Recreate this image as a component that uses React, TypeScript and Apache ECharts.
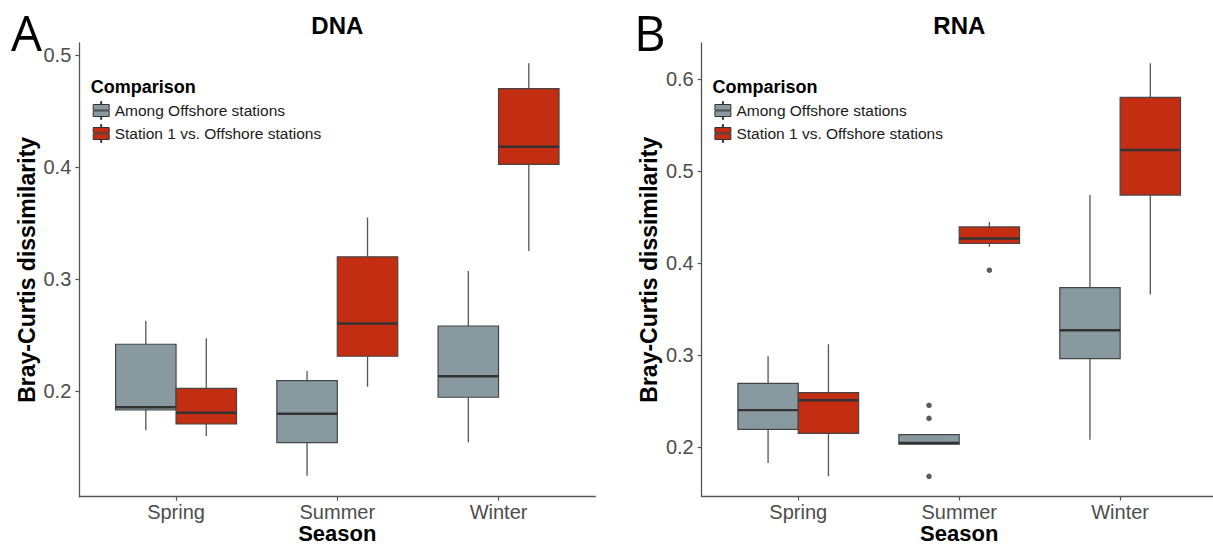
import React, { useEffect, useRef } from 'react';
import * as echarts from 'echarts';

const categories = ['Spring', 'Summer', 'Winter'];
const seriesNames = ['Among Offshore stations', 'Station 1 vs. Offshore stations'];

// [low whisker, Q1, median, Q3, high whisker] per season
const dnaOffshore = [
  [0.165, 0.183, 0.1855, 0.2417, 0.2628],
  [0.1244, 0.1539, 0.1797, 0.2092, 0.2179],
  [0.1542, 0.1944, 0.2131, 0.258, 0.3071],
];
const dnaStation1 = [
  [0.1598, 0.1705, 0.1806, 0.2024, 0.247],
  [0.2038, 0.231, 0.2602, 0.3198, 0.3549],
  [0.325, 0.4024, 0.4181, 0.47, 0.4926],
];
const rnaOffshore = [
  [0.1824, 0.219, 0.24, 0.2692, 0.2986],
  [0.203, 0.203, 0.2042, 0.2133, 0.2133],
  [0.2078, 0.296, 0.3269, 0.3734, 0.474],
];
const rnaStation1 = [
  [0.168, 0.2147, 0.2507, 0.259, 0.3117],
  [0.4177, 0.4213, 0.4268, 0.4394, 0.4449],
  [0.3658, 0.474, 0.523, 0.5804, 0.6174],
];
// [season index, value]
const rnaOffshoreOutliers = [[1, 0.2452], [1, 0.231], [1, 0.1679]];
const rnaStation1Outliers = [[1, 0.3923]];

const dnaTicks = [0.2, 0.3, 0.4, 0.5];
const rnaTicks = [0.2, 0.3, 0.4, 0.5, 0.6];
const dnaRange = [0.1056, 0.5107];
const rnaRange = [0.146, 0.6395];

const GRAY = '#889aa0';
const RED = '#c32d11';
const FONT = '"Liberation Sans", Arial, sans-serif';
const HALF = 0.1875;
const DODGE = [-HALF, HALF];
const LEGEND_ICON =
  'path://M8,0 L9,0 L9,3 L8,3 Z M0.5,3 L16.5,3 L16.5,8.6 L0.5,8.6 Z M0.5,9.4 L16.5,9.4 L16.5,15 L0.5,15 Z M8,15 L9,15 L9,18 L8,18 Z';

const makeRender = (dodge: number, fill: string) => (_params: any, api: any) => {
  const x = api.value(0) + dodge;
  const low = api.coord([x, api.value(1)]);
  const q1 = api.coord([x, api.value(2)]);
  const med = api.coord([x, api.value(3)]);
  const q3 = api.coord([x, api.value(4)]);
  const high = api.coord([x, api.value(5)]);
  const hw = api.size([HALF, 0])[0];
  const cx = low[0];
  return {
    type: 'group',
    children: [
      { type: 'line', shape: { x1: cx, y1: q3[1], x2: cx, y2: high[1] }, style: { stroke: '#555', lineWidth: 1.3 } },
      { type: 'line', shape: { x1: cx, y1: q1[1], x2: cx, y2: low[1] }, style: { stroke: '#555', lineWidth: 1.3 } },
      {
        type: 'rect',
        shape: { x: cx - hw, y: q3[1], width: 2 * hw, height: q1[1] - q3[1] },
        style: { fill, stroke: '#454545', lineWidth: 1.2 },
      },
      { type: 'line', shape: { x1: cx - hw, y1: med[1], x2: cx + hw, y2: med[1] }, style: { stroke: '#333', lineWidth: 2.4 } },
    ],
  };
};

const boxSeries = (name: string, data: number[][], idx: number, dodgeIdx: number, fill: string) => ({
  type: 'custom',
  name,
  xAxisIndex: idx,
  yAxisIndex: idx,
  data: data.map((d, i) => [i + 1, ...d]),
  encode: { x: 0, y: [1, 2, 3, 4, 5] },
  itemStyle: { color: fill },
  renderItem: makeRender(DODGE[dodgeIdx], fill),
});

const outlierSeries = (data: number[][], idx: number, dodgeIdx: number) => ({
  type: 'scatter',
  xAxisIndex: idx,
  yAxisIndex: idx,
  data: data.map((d) => [d[0] + 1 + DODGE[dodgeIdx], d[1]]),
  symbol: 'circle',
  symbolSize: 5.5,
  itemStyle: { color: '#333' },
});

const xAxisCfg = (gridIndex: number) => ({
  type: 'value',
  gridIndex,
  min: 0.4,
  max: 3.6,
  axisLine: { show: true, onZero: false, lineStyle: { color: '#555', width: 1.3 } },
  axisTick: { show: true, customValues: [1, 2, 3], length: 4, lineStyle: { color: '#555', width: 1.2 } },
  axisLabel: {
    customValues: [1, 2, 3],
    formatter: (v: number) => categories[Math.round(v) - 1] ?? '',
    fontSize: 20,
    lineHeight: 20,
    color: '#4d4d4d',
    margin: 5,
    fontFamily: FONT,
  },
  splitLine: { show: false },
  name: 'Season',
  nameLocation: 'middle',
  nameMoveOverlap: false,
  nameGap: 26,
  nameTextStyle: { fontSize: 22, fontWeight: 'bold', color: '#000', fontFamily: FONT, lineHeight: 22 },
});

const yAxisCfg = (gridIndex: number, range: number[], ticks: number[]) => ({
  type: 'value',
  gridIndex,
  min: range[0],
  max: range[1],
  axisLine: { show: true, onZero: false, lineStyle: { color: '#555', width: 1.3 } },
  axisTick: { show: true, customValues: ticks, length: 4, lineStyle: { color: '#555', width: 1.2 } },
  axisLabel: {
    customValues: ticks,
    formatter: (v: number) => v.toFixed(1),
    fontSize: 20,
    color: '#4d4d4d',
    margin: 8,
    fontFamily: FONT,
  },
  splitLine: { show: false },
  name: 'Bray-Curtis dissimilarity',
  nameLocation: 'middle',
  nameRotate: 90,
  nameGap: 41,
  nameTextStyle: { fontSize: 23, fontWeight: 'bold', color: '#000', fontFamily: FONT },
});

const legendCfg = (left: number) => ({
  orient: 'vertical',
  left,
  top: 101,
  padding: 0,
  itemWidth: 17,
  itemHeight: 18,
  itemGap: 4,
  selectedMode: false,
  textStyle: { fontSize: 15.5, color: '#1a1a1a', fontFamily: FONT },
  data: [
    { name: seriesNames[0], icon: LEGEND_ICON, itemStyle: { color: GRAY, borderColor: '#333', borderWidth: 1 } },
    { name: seriesNames[1], icon: LEGEND_ICON, itemStyle: { color: RED, borderColor: '#333', borderWidth: 1 } },
  ],
});

const txt = (text: string, x: number, y: number, size: number, weight: string, align: string, family = FONT) => ({
  type: 'text',
  x,
  y,
  style: {
    text,
    fontSize: size,
    fontWeight: weight,
    fontFamily: family,
    fill: '#000',
    align,
    verticalAlign: 'middle',
    textAlign: align,
    textVerticalAlign: 'middle',
  },
});

export default function App() {
  const ref = useRef<HTMLDivElement>(null);
  useEffect(() => {
    document.body.style.margin = '0';
    if (!ref.current) return;
    const chart = echarts.init(ref.current, undefined, { renderer: 'svg' });
    chart.setOption({
      animation: false,
      backgroundColor: '#fff',
      grid: [
        { left: 79.3, top: 43, width: 516, height: 453.7, outerBoundsMode: 'none' },
        { left: 701.7, top: 43, width: 515, height: 453.5, outerBoundsMode: 'none' },
      ],
      xAxis: [xAxisCfg(0), xAxisCfg(1)],
      yAxis: [yAxisCfg(0, dnaRange, dnaTicks), yAxisCfg(1, rnaRange, rnaTicks)],
      legend: [legendCfg(92.7), legendCfg(714.4)],
      series: [
        boxSeries(seriesNames[0], dnaOffshore, 0, 0, GRAY),
        boxSeries(seriesNames[1], dnaStation1, 0, 1, RED),
        boxSeries(seriesNames[0], rnaOffshore, 1, 0, GRAY),
        boxSeries(seriesNames[1], rnaStation1, 1, 1, RED),
        outlierSeries(rnaOffshoreOutliers, 1, 0),
        outlierSeries(rnaStation1Outliers, 1, 1),
      ],
      graphic: [
        txt('A', 11, 32, 49, 'normal', 'left', '"Open Sans", sans-serif'),
        txt('B', 634, 32, 49, 'normal', 'left', '"Open Sans", sans-serif'),
        txt('DNA', 337.3, 25, 24, 'bold', 'center'),
        txt('RNA', 959.3, 25, 24, 'bold', 'center'),
        txt('Comparison', 90.7, 87, 18, 'bold', 'left'),
        txt('Comparison', 712.4, 87, 18, 'bold', 'left'),
      ],
    });
    return () => chart.dispose();
  }, []);
  return (
    <div
      ref={ref}
      style={{ position: 'absolute', left: 0, top: 0, width: 1213, height: 545, overflow: 'hidden' }}
    />
  );
}
